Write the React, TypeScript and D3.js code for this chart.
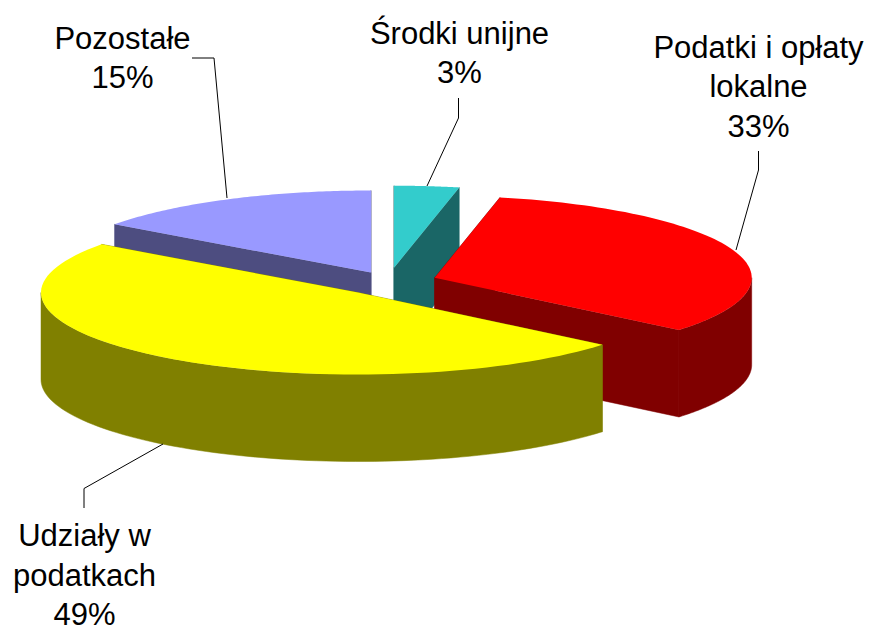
import React from "react";
import * as d3 from "d3";

const categories = ["Środki unijne", "Podatki i opłaty lokalne", "Udziały w podatkach", "Pozostałe"];
const shares = [3.3, 32.7, 49, 15];
const topColors = ["#33CCCC", "#FF0000", "#FFFF00", "#9999FF"];
const sideColors = ["#1A6666", "#800000", "#808000", "#4D4D80"];
const labelLines = [["Środki unijne", "3%"], ["Podatki i opłaty", "lokalne", "33%"], ["Udziały w", "podatkach", "49%"], ["Pozostałe", "15%"]];
const labelAnchors = [[459.5, 43.5], [758.5, 57.5], [84.5, 546], [122.5, 48.5]];
const leaders = [
  [[458.5, 98], [458.5, 118], [427, 186]],
  [[758.5, 151], [758.5, 170], [736, 250]],
  [[84, 508], [84, 488.5], [163, 444]],
  [[192, 58], [214, 58], [227, 198]],
];
const centres = [[394, 267.7], [434.7, 277.7], [358, 292.5], [371, 272.5]];
const rx = 317, ry = 82, depth = 87;

export default function App() {
  const arcs = d3.pie<number>().sort(null)(shares);
  const pt = (i: number, a: number) => [centres[i][0] + rx * Math.sin(a), centres[i][1] - ry * Math.cos(a)];
  const ellipse = (i: number, a0: number, a1: number, dy = 0) =>
    d3.range(0, 81).map((k) => {
      const a = a0 + ((a1 - a0) * k) / 80;
      const p = pt(i, a);
      return [p[0], p[1] + dy] as [number, number];
    });
  const line = d3.line();
  const walls = (i: number) => {
    const { startAngle: s, endAngle: e } = arcs[i];
    const c = centres[i] as [number, number];
    const top = ellipse(i, s, e);
    const c2: [number, number] = [c[0], c[1] + depth];
    const first = top[0];
    const last = top[top.length - 1];
    const out = [
      line([c, first, [first[0], first[1] + depth], c2])! + "Z",
      line([c, last, [last[0], last[1] + depth], c2])! + "Z",
    ];
    const fs = Math.max(s, Math.PI / 2);
    const fe = Math.min(e, (3 * Math.PI) / 2);
    if (fe > fs) {
      out.push(line([...ellipse(i, fs, fe), ...ellipse(i, fs, fe, depth).reverse()])! + "Z");
    }
    return out;
  };
  const order = [3, 0, 1, 2];
  return (
    <svg width={869} height={629} style={{ position: "absolute", left: 0, top: 0, background: "#fff" }}>
      {order.map((i) => {
        const { startAngle: s, endAngle: e } = arcs[i];
        const c = centres[i] as [number, number];
        return (
          <g key={categories[i]}>
            {walls(i).map((d, k) => (
              <path key={k} d={d} fill={sideColors[i]} stroke={sideColors[i]} strokeWidth={0.5} />
            ))}
            <path d={line([c, ...ellipse(i, s, e)])! + "Z"} fill={topColors[i]} />
          </g>
        );
      })}
      {leaders.map((l, i) => (
        <path key={i} d={line(l as [number, number][])!} fill="none" stroke="#000" strokeWidth={1} />
      ))}
      {labelLines.map((ls, i) => (
        <text key={i} x={labelAnchors[i][0]} y={labelAnchors[i][1]} textAnchor="middle" fontFamily="Liberation Sans" fontSize={31} fill="#000">
          {ls.map((t, k) => (
            <tspan key={k} x={labelAnchors[i][0]} dy={k === 0 ? 0 : 39.5}>{t}</tspan>
          ))}
        </text>
      ))}
    </svg>
  );
}
